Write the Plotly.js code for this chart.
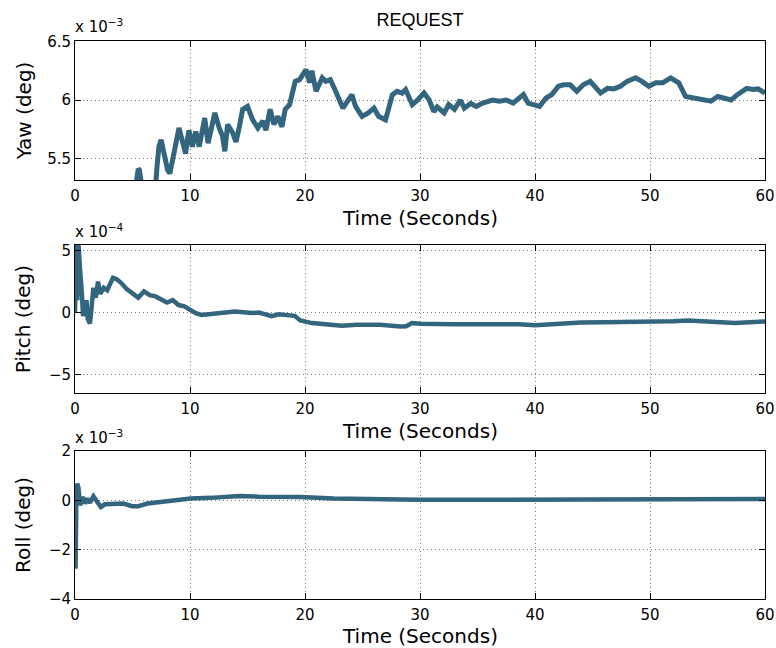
<!DOCTYPE html>
<html>
<head>
<meta charset="utf-8">
<script src="https://cdn.plot.ly/plotly-3.0.1.min.js"></script>
<style>html,body{margin:0;padding:0;background:#fff;}#chart{width:776px;height:648px;}</style>
</head>
<body>
<div id="chart"></div>
<script>
// Yaw (x 10^-3 deg)
const yawTime = [5.2,5.35,5.5,5.6,5.75,5.9,6.5,7.0,7.15,7.3,7.49,7.7,7.9,8.05,8.25,8.4,8.6,8.8,9.04,9.3,9.62,9.75,9.91,10.2,10.5,10.8,11.0,11.28,11.57,11.8,12.16,12.54,12.83,13.03,13.27,13.7,14.0,14.29,14.58,15.0,15.45,15.9,16.33,16.6,16.97,17.3,17.64,17.99,18.28,18.66,18.95,19.15,19.53,19.83,20.09,20.4,20.6,20.96,21.5,21.8,22.2,22.6,22.9,23.3,23.7,24.08,24.4,24.96,25.5,26.0,26.4,27.0,27.2,27.6,28.0,28.45,28.75,29.33,29.8,30.35,30.8,31.2,31.5,32.1,32.5,33.0,33.5,33.85,34.4,34.9,35.45,35.9,36.3,36.9,37.5,38.1,38.6,39.0,39.4,40.0,40.4,40.96,41.46,42.04,42.48,43.06,43.64,44.2,44.8,45.7,46.3,46.85,47.43,48.0,48.75,49.3,49.9,50.5,51.1,51.8,52.5,53.1,53.7,54.4,55.3,55.9,56.5,57.05,57.6,58.4,58.95,59.4,60];
const yawValues = [5.2,5.3,5.41,5.4,5.3,5.2,5.15,5.25,5.45,5.6,5.66,5.55,5.5,5.4,5.37,5.45,5.57,5.62,5.76,5.66,5.54,5.65,5.74,5.6,5.73,5.6,5.69,5.845,5.63,5.74,5.89,5.76,5.69,5.56,5.79,5.72,5.64,5.77,5.92,5.945,5.83,5.76,5.82,5.74,5.92,5.79,5.86,5.77,5.92,5.96,6.06,6.16,6.175,6.22,6.26,6.15,6.25,6.075,6.19,6.16,6.175,6.09,6.017,5.93,5.99,6.046,5.945,5.86,5.89,5.93,5.86,5.83,5.9,6.046,6.075,6.06,6.09,5.96,6.0,6.06,6.0,5.90,5.94,5.89,5.96,5.92,6.0,5.93,5.97,5.945,5.974,5.99,6.0,5.99,6.0,5.974,6.01,6.046,5.974,5.96,5.945,6.017,6.046,6.118,6.13,6.13,6.075,6.13,6.16,6.06,6.10,6.095,6.118,6.16,6.19,6.16,6.118,6.147,6.147,6.19,6.147,6.03,6.017,6.01,5.99,6.03,6.017,6.0,6.046,6.10,6.09,6.095,6.06];

// Pitch (x 10^-4 deg)
const pitchTime = [0,0.05,0.1,0.15,0.2,0.3,0.4,0.5,0.6,0.7,0.8,0.9,1.0,1.1,1.3,1.45,1.6,1.8,2.0,2.2,2.5,2.8,3.0,3.3,3.6,4.0,4.5,5.0,5.5,6.0,6.5,7.0,7.5,8.0,8.5,9.0,9.5,10.0,10.5,11.0,12.0,12.6,13.9,15.4,16.0,17.1,17.7,19.1,19.6,20.6,22.0,23.2,24.5,25.6,26.5,28.3,28.8,29.3,30.0,32.8,35.2,38.6,40.0,42.0,44.0,46.0,49.8,52.0,53.3,55.0,57.4,60.0];
const pitchValues = [0,5.6,0.5,5.6,1.0,5.6,4.0,3.0,1.5,-0.3,0.5,-0.2,1.0,-0.5,-0.9,0.5,2.0,1.2,2.5,1.5,2.0,1.8,2.3,2.8,2.7,2.4,1.9,1.6,1.2,1.7,1.4,1.3,1.0,0.8,1.0,0.6,0.5,0.2,-0.05,-0.2,-0.1,-0.1,0.08,-0.05,0.0,-0.3,-0.15,-0.27,-0.65,-0.86,-0.95,-1.08,-1.0,-0.95,-1.0,-1.13,-1.12,-0.86,-0.92,-0.95,-0.92,-0.95,-1.03,-0.9,-0.81,-0.8,-0.8,-0.72,-0.65,-0.72,-0.86,-0.73];

// Roll (x 10^-3 deg)
const rollTime = [0,0.05,0.12,0.2,0.3,0.44,0.67,0.87,1.08,1.3,1.6,1.9,2.25,2.6,3.35,4.2,4.96,5.5,6.3,7.4,8.9,10.06,11.8,13.5,14.3,16.0,19.6,22.5,25.4,28.3,30.0,35.0,40.0,45.0,50.0,55.0,60.0];
const rollValues = [0,-2.77,0.3,0.68,0.5,-0.2,0.14,-0.13,0.07,-0.1,0.16,-0.07,-0.27,-0.16,-0.13,-0.13,-0.24,-0.24,-0.13,-0.07,0.03,0.07,0.1,0.135,0.18,0.15,0.14,0.07,0.03,0.03,0.02,0.03,0.03,0.04,0.04,0.06,0.05];

const xTicks = [0,10,20,30,40,50,60];
const yawTicks = [5.5,6,6.5];
const pitchTicks = [-5,0,5];
const rollTicks = [-4,-2,0,2];
const xTitle = 'Time (Seconds)';

const lineColor = '#33657f';
const FONT = 'DejaVu Sans, sans-serif';

function trace(x, y, xa, ya, w) {
  return {x: x, y: y, xaxis: xa, yaxis: ya, type: 'scatter', mode: 'lines',
    line: {color: lineColor, width: w}, hoverinfo: 'skip'};
}

const W = 776, H = 648;
const xDom = [75/W, 765/W];
function yDom(top, bottom) { return [1 - bottom/H, 1 - top/H]; }

const GRID = {showgrid: true, gridcolor: '#7a7a7a', griddash: '1px,3px', gridwidth: 1};

function xAxis(anchor) {
  return Object.assign({anchor: anchor, domain: xDom, range: [0, 60], tickvals: xTicks,
    showline: true, mirror: 'ticks', linecolor: '#000', linewidth: 1,
    ticks: 'inside', ticklen: 6, tickcolor: '#000',
    zeroline: false, ticklabelstandoff: 2,
    tickfont: {family: FONT, size: 15, color: '#000'},
    automargin: false}, GRID);
}
function yAxis(anchor, dom, range, ticks, title, standoff) {
  return Object.assign({domain: dom, anchor: anchor, range: range, tickvals: ticks,
    showline: true, mirror: 'ticks', linecolor: '#000', linewidth: 1,
    ticks: 'inside', ticklen: 6, tickcolor: '#000',
    zeroline: false,
    tickfont: {family: FONT, size: 15, color: '#000'},
    title: {text: title, font: {family: FONT, size: 20, color: '#000'}, standoff: standoff},
    automargin: false}, GRID);
}

function expNote(text, yTop) {
  return {text: text, xref: 'paper', yref: 'paper', x: 73/W, y: 1 - yTop/H,
    xanchor: 'left', yanchor: 'top', showarrow: false,
    font: {family: FONT, size: 15, color: '#000'}};
}
function xTitleNote(yMid) {
  return {text: xTitle, xref: 'paper', yref: 'paper', x: 420/W, y: 1 - yMid/H,
    xanchor: 'center', yanchor: 'middle', showarrow: false, borderpad: 0,
    font: {family: FONT, size: 20, color: '#000'}};
}

const layout = {
  width: W, height: H,
  margin: {l: 0, r: 0, t: 0, b: 0},
  paper_bgcolor: '#fff', plot_bgcolor: '#fff',
  showlegend: false,
  title: {text: 'REQUEST', x: 420/W, xanchor: 'center', y: 1 - 20/H, yanchor: 'middle',
    font: {family: 'Liberation Sans, Arial, sans-serif', size: 18, color: '#000'}},
  xaxis: xAxis('y'),
  yaxis: yAxis('x', yDom(41, 180), [5.314, 6.506], yawTicks, 'Yaw (deg)', 10),
  xaxis2: xAxis('y2'),
  yaxis2: yAxis('x2', yDom(245, 393.3), [-6.54, 5.46], pitchTicks, 'Pitch (deg)', 12),
  xaxis3: xAxis('y3'),
  yaxis3: yAxis('x3', yDom(451, 599), [-4, 2], rollTicks, 'Roll (deg)', 12),
  annotations: [
    expNote('x 10<sup>−3</sup>', 14),
    expNote('x 10<sup>−4</sup>', 219),
    expNote('x 10<sup>−3</sup>', 425),
    xTitleNote(218),
    xTitleNote(431),
    xTitleNote(636)
  ]
};

Plotly.newPlot('chart', [
  trace(yawTime, yawValues, 'x', 'y', 5),
  trace(pitchTime, pitchValues, 'x2', 'y2', 4.5),
  trace(rollTime, rollValues, 'x3', 'y3', 4.5)
], layout, {staticPlot: true, displayModeBar: false});
</script>
</body>
</html>
